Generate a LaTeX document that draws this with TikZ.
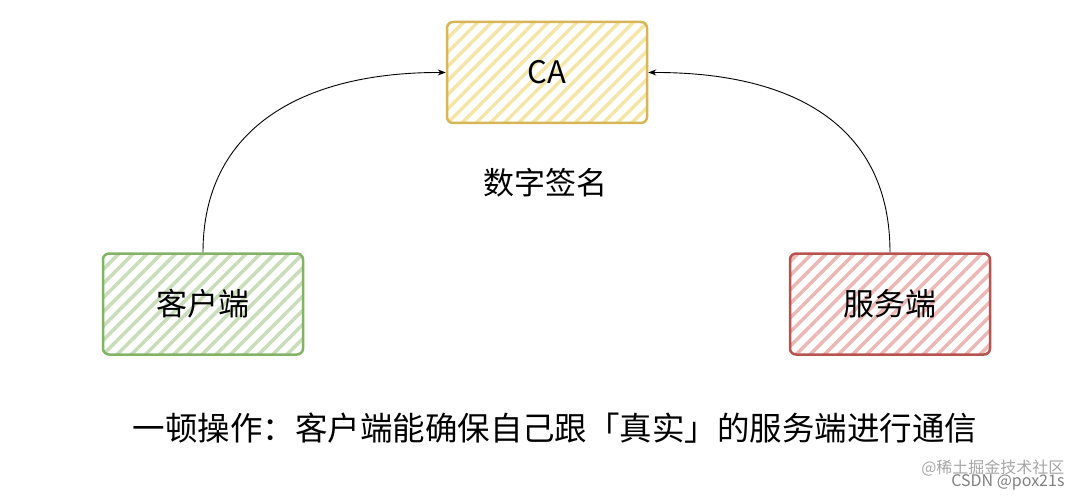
\documentclass[tikz,border=0pt]{standalone}
\usepackage{fontspec}
\setmainfont{Noto Sans CJK SC}
\usetikzlibrary{patterns.meta,arrows.meta}
\definecolor{yb}{HTML}{D6B656}\definecolor{yf}{HTML}{F5E6A8}
\definecolor{gb}{HTML}{82B366}\definecolor{gf}{HTML}{C9DDB9}
\definecolor{rb}{HTML}{B85450}\definecolor{rf}{HTML}{EBB8B5}
\tikzset{
 box/.style={draw=#1, line width=2.5pt, rounded corners=6pt, minimum width=200pt, minimum height=101pt, font=\fontsize{31}{36}\selectfont},
 hat/.style={pattern={Lines[angle=45,distance=10pt,line width=3.5pt]}, pattern color=#1},
 arr/.style={-{Stealth[length=8pt,width=6pt]}, line width=0.9pt},
 lbl/.style={font=\fontsize{31}{36}\selectfont}
}
\begin{document}
\begin{tikzpicture}[x=1pt,y=-1pt]
\useasboundingbox (0,0) rectangle (1080,500);
\fill[hat=yf,rounded corners=6pt] (447,22) rectangle (647,123);
\fill[hat=gf,rounded corners=6pt] (103,253) rectangle (303,355);
\fill[hat=rf,rounded corners=6pt] (790,253) rectangle (990,355);
\node[box=yb] (ca) at (547,72.5) {CA};
\node[box=gb] (cl) at (203,304) {客户端};
\node[box=rb] (sv) at (890,304) {服务端};
\node[lbl] (sig) at (545,183) {数字签名};
\node[font=\fontsize{32.5}{36}\selectfont] (bt) at (555,428) {一顿操作：客户端能确保自己跟「真实」的服务端进行通信};
\draw[arr] (cl.north) .. controls (203,130) and (300,72) .. (ca.west);
\draw[arr] (sv.north) .. controls (890,130) and (800,72) .. (ca.east);
\node[text=black!35, font=\fontsize{16}{18}\selectfont, anchor=east] (wm1) at (1068,468) {@稀土掘金技术社区};
\node[text=black!50, font=\fontsize{16}{18}\selectfont, anchor=east] (wm2) at (1068,482) {CSDN @pox21s};
\end{tikzpicture}
\end{document}
